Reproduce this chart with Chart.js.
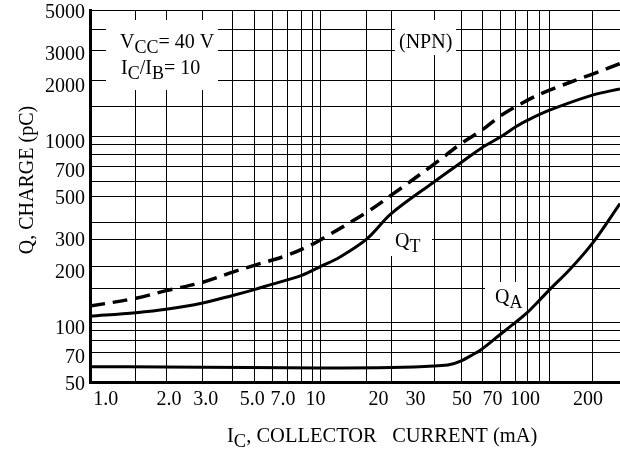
<!DOCTYPE html>
<html>
<head>
<meta charset="utf-8">
<script src="https://cdn.jsdelivr.net/npm/chart.js@4.4.0/dist/chart.umd.min.js"></script>
<style>
    body { margin: 0; background: #fff; }
    #wrap { width: 620px; height: 450px; }
</style>
</head>
<body>
<div id="wrap"><canvas id="chargeChart" width="620" height="450"></canvas></div>
<script>
// Q_T, total charge (solid)
const currentQT = [0.84, 1.39, 1.94, 2.9, 4.03, 5.11, 6.24, 7.34, 8.6, 10.6, 13.1, 17.6, 23, 36.8, 49.6, 62.8, 76.6, 90.4, 103, 131, 210, 284];
const chargeQT = [113, 118, 123, 133, 146, 157, 168, 177, 187, 209, 235, 294, 402, 595, 757, 915, 1040, 1177, 1279, 1447, 1743, 1883];

// upper dashed curve
const currentDashed = [0.84, 1.39, 1.94, 2.9, 4.03, 5.11, 7.34, 9.66, 10.6, 17.6, 23, 36.8, 49.6, 62.8, 76.6, 103, 131, 210, 284];
const chargeDashed = [128, 141, 155, 172, 195, 212, 240, 275, 291, 409, 505, 741, 958, 1137, 1352, 1638, 1855, 2262, 2576];

// Q_A (solid, lower)
const currentQA = [0.84, 2.9, 10.6, 23, 36.8, 43.9, 49.6, 56.5, 61, 76.9, 90.4, 103, 117, 131, 164, 210, 284];
const chargeQA = [60.4, 60.1, 59.5, 59.8, 61, 62.1, 65, 70.3, 73.9, 90.9, 104.9, 118.8, 137.4, 156.8, 202, 279, 455];

// axis labels
const xTickValues = [1, 2, 3, 5, 7, 10, 20, 30, 50, 70, 100, 200];
const xTickLabels = ['1.0', '2.0', '3.0', '5.0', '7.0', '10', '20', '30', '50', '70', '100', '200'];
const yTickValues = [50, 70, 100, 200, 300, 500, 700, 1000, 2000, 3000, 5000];

// grid rulings of the sheet
const xGridValues = [1.39, 1.94, 2.9, 4.03, 5.11, 6.24, 7.34, 8.6, 9.65, 10.6, 17.6, 23, 36.8, 49.6, 62.8, 76.6, 90.4, 103, 117, 131, 210];
const yGridValues = [72, 84, 95, 104, 159, 208, 292, 362, 494, 600, 723, 836, 946, 1049, 1508, 2100, 3010, 3936, 5000];

const xMin = 0.84, xMax = 284;
const yMin = 50, yMax = 5000;

const serif = '"Liberation Serif", "Times New Roman", serif';
Chart.defaults.font.family = serif;
Chart.defaults.color = '#000';

function toPoints(xs, ys) {
    return xs.map((x, i) => ({ x: x, y: ys[i] }));
}

function fixedTicks(values) {
    return function(scale) {
        scale.ticks = values.map(v => ({ value: v }));
    };
}

function noPadding(scale) {
    scale.paddingLeft = 0;
    scale.paddingRight = 0;
    scale.paddingTop = 0;
    scale.paddingBottom = 0;
}

// text with lowered subscript parts: [[text, isSub], ...]
function drawRich(ctx, x, y, parts, size) {
    parts.forEach(([text, sub]) => {
        ctx.font = (sub ? size - 2 : size) + 'px ' + serif;
        ctx.fillText(text, x, sub ? y + 5 : y);
        x += ctx.measureText(text).width;
    });
}

const labelsPlugin = {
    id: 'sheetLabels',
    beforeDatasetsDraw(chart) {
        const ctx = chart.ctx;
        const a = chart.chartArea;
        ctx.save();

        // blank out the rulings behind the notes
        ctx.fillStyle = '#fff';
        ctx.fillRect(a.left + 16, a.top + 10, 112, 70);
        ctx.fillRect(a.left + 305, a.top + 10, 61, 35);
        ctx.fillRect(a.left + 290, a.top + 214, 52, 32);
        ctx.fillRect(a.left + 395, a.top + 272, 42, 40);

        ctx.fillStyle = '#000';
        ctx.textAlign = 'left';
        ctx.textBaseline = 'alphabetic';
        drawRich(ctx, a.left + 30, a.top + 38, [['V', false], ['CC', true], ['= 40 V', false]], 20);
        drawRich(ctx, a.left + 31, a.top + 64, [['I', false], ['C', true], ['/I', false], ['B', true], ['= 10', false]], 20);
        drawRich(ctx, a.left + 309, a.top + 38, [['(NPN)', false]], 20);
        drawRich(ctx, a.left + 305, a.top + 237, [['Q', false], ['T', true]], 20);
        drawRich(ctx, a.left + 405, a.top + 293, [['Q', false], ['A', true]], 20);
        ctx.restore();
    },
    afterDraw(chart) {
        const ctx = chart.ctx;
        ctx.save();
        ctx.fillStyle = '#000';
        ctx.textBaseline = 'alphabetic';

        // x axis title
        ctx.textAlign = 'left';
        drawRich(ctx, 227, 442, [['I', false], ['C', true], [', COLLECTOR   CURRENT (mA)', false]], 20.5);

        // y axis title
        ctx.translate(33, 180);
        ctx.rotate(-Math.PI / 2);
        ctx.textAlign = 'center';
        ctx.font = '20px ' + serif;
        ctx.fillText('Q, CHARGE (pC)', 0, 0);
        ctx.restore();
    }
};

const lineStyle = {
    borderColor: '#000',
    backgroundColor: '#000',
    borderWidth: 3,
    pointRadius: 0,
    fill: false,
    tension: 0.35
};

new Chart(document.getElementById('chargeChart'), {
    type: 'line',
    data: {
        datasets: [
            Object.assign({ label: 'Q_T', data: toPoints(currentQT, chargeQT) }, lineStyle),
            Object.assign({ label: 'dashed', data: toPoints(currentDashed, chargeDashed) }, lineStyle, { borderDash: [15, 8], borderWidth: 3.5 }),
            Object.assign({ label: 'Q_A', data: toPoints(currentQA, chargeQA) }, lineStyle, { cubicInterpolationMode: 'monotone' })
        ]
    },
    options: {
        responsive: false,
        animation: false,
        devicePixelRatio: 1,
        layout: { padding: { top: 10, right: 0, bottom: 0, left: 0 } },
        plugins: {
            legend: { display: false },
            tooltip: { enabled: false }
        },
        scales: {
            x: {
                type: 'logarithmic',
                position: 'bottom',
                min: xMin,
                max: xMax,
                afterBuildTicks: fixedTicks(xTickValues),
                ticks: {
                    autoSkip: false,
                    maxRotation: 0,
                    padding: 6,
                    font: { size: 20 },
                    callback: v => xTickLabels[xTickValues.indexOf(v)]
                },
                grid: { display: false, drawTicks: false },
                border: { display: true, width: 3, color: '#000' },
                afterFit: s => { s.height = 68; noPadding(s); }
            },
            xg: {
                type: 'logarithmic',
                position: 'bottom',
                min: xMin,
                max: xMax,
                afterBuildTicks: fixedTicks(xGridValues),
                ticks: { display: false },
                grid: { color: '#000', lineWidth: 1, drawTicks: false },
                border: { display: false },
                afterFit: s => { s.height = 0; noPadding(s); }
            },
            y: {
                type: 'logarithmic',
                position: 'left',
                min: yMin,
                max: yMax,
                afterBuildTicks: fixedTicks(yTickValues),
                ticks: {
                    autoSkip: false,
                    padding: 5,
                    labelOffset: 3,
                    font: { size: 20 },
                    callback: v => String(v)
                },
                grid: { display: false, drawTicks: false },
                border: { display: true, width: 3, color: '#000' },
                afterFit: s => { s.width = 90; noPadding(s); }
            },
            yg: {
                type: 'logarithmic',
                position: 'left',
                min: yMin,
                max: yMax,
                afterBuildTicks: fixedTicks(yGridValues),
                ticks: { display: false },
                grid: { color: '#000', lineWidth: 1, drawTicks: false },
                border: { display: false },
                afterFit: s => { s.width = 0; noPadding(s); }
            }
        }
    },
    plugins: [labelsPlugin]
});
</script>
</body>
</html>
